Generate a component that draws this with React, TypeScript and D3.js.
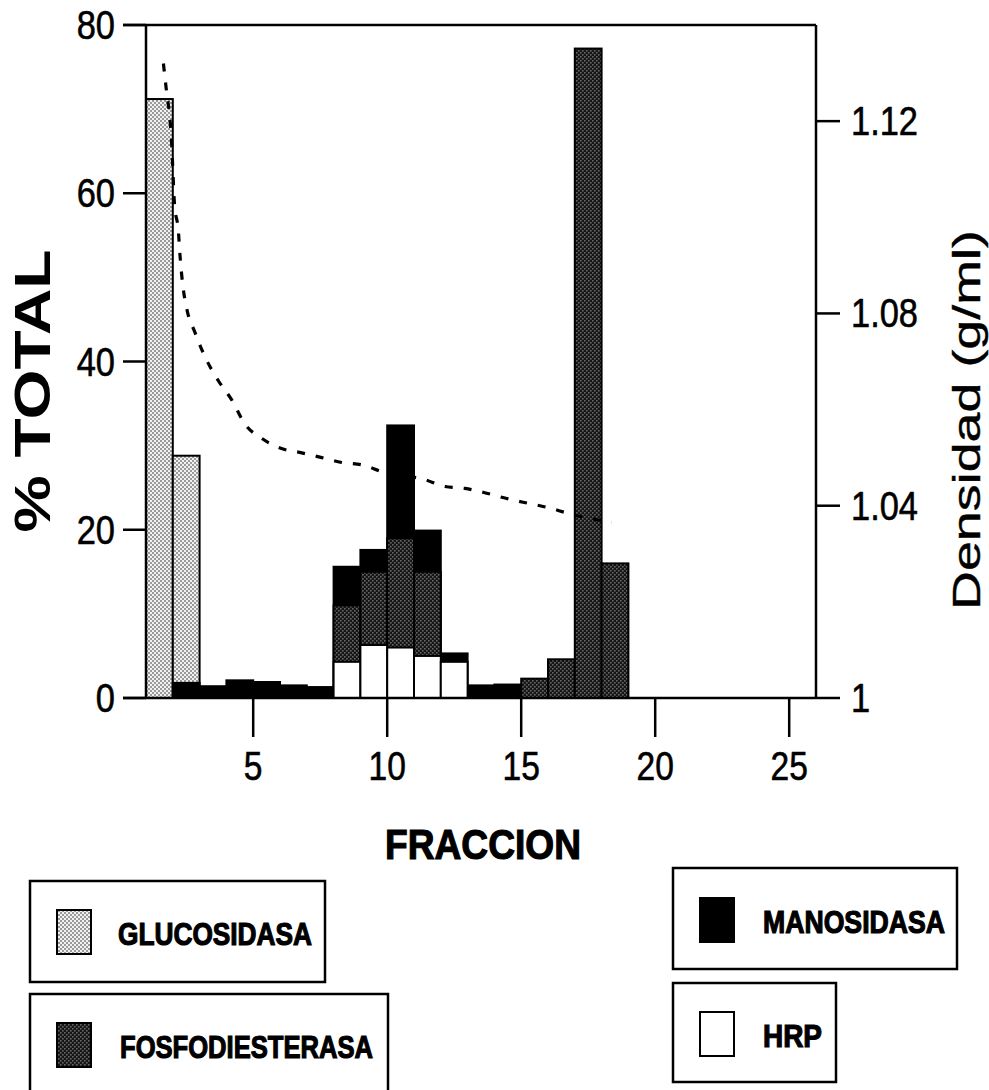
import React from 'react';
import * as d3 from 'd3';

// fraction bins (left edge of each 1-fraction bar) and % total per enzyme
const glucBins = [1, 2];
const glucosidasa = [71.2, 28.8];

const manoBins = [2, 3, 4, 5, 6, 7, 8, 9, 10, 11, 12, 13, 14];
const manosidasa = [1.8, 1.4, 2.1, 1.9, 1.5, 1.3, 15.6, 17.6, 32.4, 19.9, 5.3, 1.5, 1.6];

const fosfoBins = [8, 9, 10, 11, 15, 16, 17, 18];
const fosfodiesterasa = [11, 15, 19, 15, 2.3, 4.6, 77.2, 16.0];

const hrpBins = [8, 9, 10, 11, 12];
const hrp = [4.3, 6.3, 6.0, 5.0, 4.3];

// density gradient (dashed line)
const densFraccion = [1.65, 1.77, 1.9, 1.96, 2.06, 2.21, 2.27, 2.37, 2.52, 2.83, 3.2, 3.7, 4.2, 4.69, 5.32, 6.0, 6.81, 7.56, 8.3, 9.05, 9.85, 11.35, 12.16, 12.9, 13.71, 14.46, 15.26, 16.01, 16.76, 18.38];
const densidad = [1.132, 1.126, 1.12, 1.115, 1.103, 1.097, 1.092, 1.086, 1.081, 1.076, 1.071, 1.066, 1.062, 1.057, 1.054, 1.052, 1.051, 1.05, 1.049, 1.0485, 1.047, 1.0455, 1.044, 1.0436, 1.0426, 1.0415, 1.0405, 1.0396, 1.0384, 1.0365];

const xTicks = [5, 10, 15, 20, 25];
const yTicks = [0, 20, 40, 60, 80];
const rTicks = [1, 1.04, 1.08, 1.12];
const rTickLabels = ['1', '1.04', '1.08', '1.12'];

const FONT = '"Liberation Sans", Arial, sans-serif';
const SQUEEZE = 0.84; // tick digits in the original are narrow

const Bars = ({ bins, values, fill, x, y }) => (
  <g>
    {bins.map((b, i) => (
      <rect
        key={b}
        x={x(b)}
        y={y(values[i])}
        width={x(b + 1) - x(b)}
        height={y(0) - y(values[i])}
        fill={fill}
        stroke="#000"
        strokeWidth={2}
      />
    ))}
  </g>
);

const LegendBox = ({ x, y, w, h, fill, label, tx, tw, swY }) => (
  <g>
    <rect x={x} y={y} width={w} height={h} fill="#fff" stroke="#000" strokeWidth={2.5} />
    <rect x={x + 27} y={swY} width={34} height={44} fill={fill} stroke="#000" strokeWidth={2} />
    <text
      x={tx}
      y={swY + 35}
      fontFamily={FONT}
      fontWeight="bold"
      fontSize={32}
      stroke="#000"
      strokeWidth={1.2}
      textLength={tw}
      lengthAdjust="spacingAndGlyphs"
    >
      {label}
    </text>
  </g>
);

export default function App() {
  const x = d3.scaleLinear().domain([1, 26]).range([146, 816]);
  const y = d3.scaleLinear().domain([0, 80]).range([698, 25]);
  const yR = d3.scaleLinear().domain([1, 1.14]).range([698, 25]);

  const line = d3
    .line<number>()
    .x((d, i) => x(densFraccion[i]))
    .y(d => yR(d))
    .curve(d3.curveMonotoneX);

  return (
    <div style={{ position: 'absolute', left: 0, top: 0 }}>
      <svg width={989} height={1090} style={{ display: 'block', background: '#fff' }}>
        <defs>
          <pattern id="pGluc" width={4} height={4} patternUnits="userSpaceOnUse">
            <rect width={4} height={4} fill="#f2f2f2" />
            <rect width={2} height={2} fill="#9a9a9a" />
            <rect x={2} y={2} width={2} height={2} fill="#9a9a9a" />
          </pattern>
          <pattern id="pFosfo" width={4} height={4} patternUnits="userSpaceOnUse">
            <rect width={4} height={4} fill="#151515" />
            <rect width={1.6} height={1.6} fill="#666" />
            <rect x={2} y={2} width={1.6} height={1.6} fill="#666" />
          </pattern>
        </defs>

        {/* bars */}
        <Bars bins={glucBins} values={glucosidasa} fill="url(#pGluc)" x={x} y={y} />
        <Bars bins={manoBins} values={manosidasa} fill="#000" x={x} y={y} />
        <Bars bins={fosfoBins} values={fosfodiesterasa} fill="url(#pFosfo)" x={x} y={y} />
        <Bars bins={hrpBins} values={hrp} fill="#fff" x={x} y={y} />

        {/* density */}
        <path
          d={line(densidad) || ''}
          fill="none"
          stroke="#000"
          strokeWidth={3.2}
          strokeDasharray="8 11"
        />

        {/* frame */}
        <line x1={x(1)} x2={x(1)} y1={y(80)} y2={y(0)} stroke="#000" strokeWidth={2.5} />
        <line x1={x(26)} x2={x(26)} y1={y(80)} y2={y(0)} stroke="#000" strokeWidth={2.5} />
        <line x1={x(1) - 23} x2={x(26)} y1={y(80)} y2={y(80)} stroke="#000" strokeWidth={2.5} />
        <line x1={x(1) - 23} x2={x(26)} y1={y(0)} y2={y(0)} stroke="#000" strokeWidth={2.5} />

        {/* left axis */}
        {yTicks.map(t => (
          <g key={t}>
            <line x1={x(1) - 23} x2={x(1)} y1={y(t)} y2={y(t)} stroke="#000" strokeWidth={2.5} />
            <text
              transform={`translate(115,${y(t) + 14}) scale(${SQUEEZE},1)`}
              textAnchor="end"
              fontFamily={FONT}
              fontSize={41}
              stroke="#000"
              strokeWidth={0.6}
            >
              {t}
            </text>
          </g>
        ))}

        {/* right axis */}
        {rTicks.map((t, i) => (
          <g key={t}>
            <line x1={x(26)} x2={x(26) + 24} y1={yR(t)} y2={yR(t)} stroke="#000" strokeWidth={2.5} />
            <text
              transform={`translate(851,${yR(t) + 14}) scale(${SQUEEZE},1)`}
              fontFamily={FONT}
              fontSize={41}
              stroke="#000"
              strokeWidth={0.6}
            >
              {rTickLabels[i]}
            </text>
          </g>
        ))}

        {/* bottom axis */}
        {xTicks.map(t => (
          <g key={t}>
            <line x1={x(t)} x2={x(t)} y1={y(0)} y2={y(0) + 39} stroke="#000" strokeWidth={2.5} />
            <text
              transform={`translate(${x(t)},780) scale(${SQUEEZE},1)`}
              textAnchor="middle"
              fontFamily={FONT}
              fontSize={40}
              stroke="#000"
              strokeWidth={0.6}
            >
              {t}
            </text>
          </g>
        ))}

        {/* axis titles */}
        <text
          x={483}
          y={859}
          textAnchor="middle"
          fontFamily={FONT}
          fontWeight="bold"
          fontSize={43}
          stroke="#000"
          strokeWidth={1.2}
          textLength={196}
          lengthAdjust="spacingAndGlyphs"
        >
          FRACCION
        </text>
        <text
          transform="translate(50,391) rotate(-90)"
          textAnchor="middle"
          fontFamily={FONT}
          fontWeight="bold"
          fontSize={50}
          textLength={283}
          lengthAdjust="spacingAndGlyphs"
        >
          % TOTAL
        </text>
        <text
          transform="translate(980,420) rotate(-90)"
          textAnchor="middle"
          fontFamily={FONT}
          fontSize={39}
          stroke="#000"
          strokeWidth={0.4}
          textLength={380}
          lengthAdjust="spacingAndGlyphs"
        >
          Densidad (g/ml)
        </text>

        {/* legends */}
        <LegendBox x={30} y={881} w={295} h={101} fill="url(#pGluc)" label="GLUCOSIDASA" tx={118} tw={194} swY={910} />
        <LegendBox x={30} y={994} w={358} h={110} fill="url(#pFosfo)" label="FOSFODIESTERASA" tx={120} tw={253} swY={1023} />
        <LegendBox x={673} y={868} w={284} h={101} fill="#000" label="MANOSIDASA" tx={763} tw={182} swY={898} />
        <LegendBox x={673} y={983} w={163} h={99} fill="#fff" label="HRP" tx={763} tw={59} swY={1012} />
      </svg>
    </div>
  );
}
